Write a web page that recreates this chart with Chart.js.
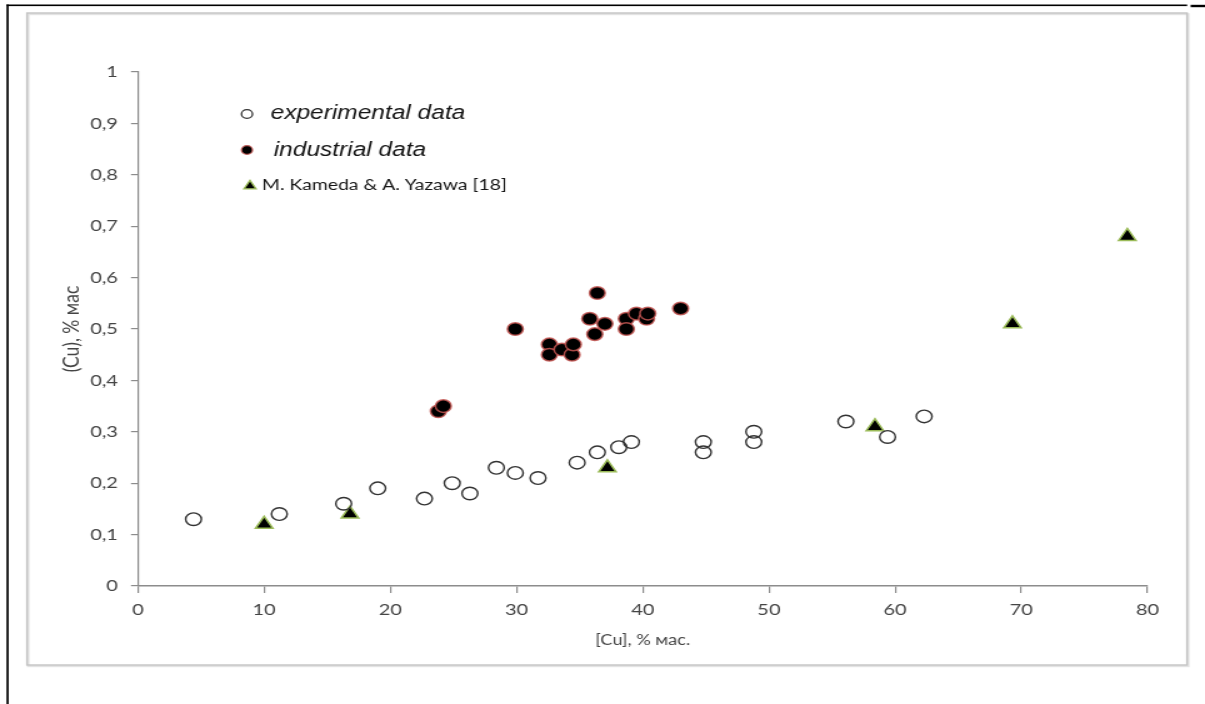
<!DOCTYPE html>
<html>
<head>
<meta charset="utf-8">
<script src="https://cdn.jsdelivr.net/npm/chart.js@4/dist/chart.umd.min.js"></script>
<style>
  html, body { margin: 0; padding: 0; background: #fff; overflow: hidden; }
  /* the figure is laid out at 964px and widened to the full 1205px page */
  #wrap { position: absolute; left: 0; top: 0; width: 964px; height: 704px;
          transform: scaleX(1.25); transform-origin: 0 0; }
</style>
</head>
<body>
<div id="wrap"><canvas id="c"></canvas></div>
<script>
// Experimental data: [Cu] in matte vs (Cu) in slag, % mass
const expX = [4.4, 11.2, 16.3, 19.0, 22.7, 24.9, 26.3, 28.4, 29.9, 31.7, 34.8, 36.4, 38.1, 39.1, 44.8, 44.8, 48.8, 48.8, 56.1, 59.4, 62.3];
const expY = [0.13, 0.14, 0.16, 0.19, 0.17, 0.20, 0.18, 0.23, 0.22, 0.21, 0.24, 0.26, 0.27, 0.28, 0.28, 0.26, 0.30, 0.28, 0.32, 0.29, 0.33];

// Industrial data
const indX = [23.8, 24.2, 29.9, 32.6, 32.6, 33.6, 34.4, 34.5, 35.8, 36.2, 36.4, 37.0, 38.7, 38.7, 39.5, 40.3, 40.4, 43.0];
const indY = [0.34, 0.35, 0.50, 0.47, 0.45, 0.46, 0.45, 0.47, 0.52, 0.49, 0.57, 0.51, 0.52, 0.50, 0.53, 0.52, 0.53, 0.54];

// M. Kameda & A. Yazawa [18]
const kyX = [10.0, 16.8, 37.2, 58.4, 69.3, 78.4];
const kyY = [0.12, 0.14, 0.23, 0.31, 0.51, 0.68];

// Axis ranges and ticks
const xTicks = [0, 10, 20, 30, 40, 50, 60, 70, 80];
const yTicks = [0, 0.1, 0.2, 0.3, 0.4, 0.5, 0.6, 0.7, 0.8, 0.9, 1];
const xTitle = '[Cu], % мас.';
const yTitle = '(Cu), % мас';
const legendLabels = ['experimental data', 'industrial data', 'M. Kameda & A. Yazawa [18]'];

const pts = (xs, ys) => xs.map((x, i) => ({ x: x, y: ys[i] }));
const fmt = v => String(Number(v.toFixed(1))).replace('.', ',');

const AXIS = '#8c8c8c';
const TICK = '#454545';

// Page frame and the grey chart border
const framePlugin = {
  id: 'frame',
  beforeDraw(chart) {
    const ctx = chart.ctx;
    ctx.save();
    ctx.fillStyle = '#fff';
    ctx.fillRect(0, 0, chart.width, chart.height);
    // grey outer border of the chart with a soft shadow
    ctx.strokeStyle = '#e3e3e3';
    ctx.lineWidth = 2;
    ctx.strokeRect(22.6, 14.2, 928, 652);
    ctx.strokeStyle = '#c4c4c4';
    ctx.lineWidth = 1.4;
    ctx.strokeRect(21.6, 13, 928, 652);
    // black page rules
    ctx.fillStyle = '#000';
    ctx.fillRect(5.2, 4.5, 944.5, 1.6);
    ctx.fillRect(952.5, 4.8, 12, 2.4);
    ctx.fillRect(5.2, 4.5, 1.7, 700);
    ctx.restore();
  }
};

// Legend drawn inside the plot area
const legendPlugin = {
  id: 'innerLegend',
  afterDraw(chart) {
    const ctx = chart.ctx;
    const dsets = chart.data.datasets;
    const rows = [
      { sx: 197.6, sy: 114, tx: 216.5, ty: 114, font: 'italic 19.6px "Liberation Sans", Arial, sans-serif', r: 4.4 },
      { sx: 197.6, sy: 150, tx: 219, ty: 151, font: 'italic 19.6px "Liberation Sans", Arial, sans-serif', r: 4.4 },
      { sx: 200, sy: 186, tx: 209.5, ty: 185, font: '15.5px Lato, "Open Sans", sans-serif', r: 5.6 }
    ];
    ctx.save();
    rows.forEach((row, i) => {
      const ds = dsets[i];
      ctx.fillStyle = ds.backgroundColor;
      ctx.strokeStyle = ds.borderColor;
      ctx.lineWidth = 1.3;
      Chart.helpers.drawPoint(ctx, {
        pointStyle: ds.pointStyle, radius: row.r, borderWidth: 1.3, rotation: 0
      }, row.sx, row.sy);
      ctx.fillStyle = '#151515';
      ctx.font = row.font;
      ctx.textBaseline = 'middle';
      ctx.textAlign = 'left';
      ctx.fillText(legendLabels[i], row.tx, row.ty);
    });
    ctx.restore();
  }
};

new Chart(document.getElementById('c'), {
  type: 'scatter',
  data: {
    datasets: [
      {
        label: legendLabels[0],
        data: pts(expX, expY),
        pointStyle: 'circle',
        pointRadius: 6.3,
        borderWidth: 1.4,
        borderColor: '#333',
        backgroundColor: 'rgba(0,0,0,0)'
      },
      {
        label: legendLabels[1],
        data: pts(indX, indY),
        pointStyle: 'circle',
        pointRadius: 6.3,
        borderWidth: 1.5,
        borderColor: 'rgba(196,86,82,0.85)',
        backgroundColor: '#000'
      },
      {
        label: legendLabels[2],
        data: pts(kyX, kyY),
        pointStyle: 'triangle',
        pointRadius: 8,
        borderWidth: 1.5,
        borderColor: '#9bbb59',
        backgroundColor: '#000'
      }
    ]
  },
  options: {
    responsive: true,
    maintainAspectRatio: false,
    animation: false,
    events: [],
    layout: { padding: { left: 0, top: 72, right: 46, bottom: 0 } },
    plugins: { legend: { display: false }, tooltip: { enabled: false } },
    scales: {
      x: {
        type: 'linear',
        min: xTicks[0],
        max: xTicks[xTicks.length - 1],
        afterFit(scale) { scale.height = 118; },
        afterBuildTicks(scale) { scale.ticks = xTicks.map(v => ({ value: v })); },
        ticks: {
          color: TICK,
          font: { family: 'Lato, "Open Sans", sans-serif', size: 16 },
          padding: 7,
          maxRotation: 0,
          callback: v => fmt(v)
        },
        grid: { drawOnChartArea: false, drawTicks: true, tickLength: 7, color: AXIS, lineWidth: 1.2 },
        border: { color: AXIS, width: 1.4 },
        title: {
          display: true,
          text: xTitle,
          color: TICK,
          font: { family: 'Lato, "Open Sans", sans-serif', size: 14.5 },
          padding: { top: 0, bottom: 55 }
        }
      },
      y: {
        type: 'linear',
        min: yTicks[0],
        max: yTicks[yTicks.length - 1],
        afterFit(scale) { scale.width = 110.4; },
        afterBuildTicks(scale) { scale.ticks = yTicks.map(v => ({ value: v })); },
        ticks: {
          color: TICK,
          font: { family: 'Lato, "Open Sans", sans-serif', size: 16 },
          padding: 10.4,
          callback: v => fmt(v)
        },
        grid: { drawOnChartArea: false, drawTicks: true, tickLength: 5.6, color: AXIS, lineWidth: 1.2 },
        border: { color: AXIS, width: 1.2 },
        title: {
          display: true,
          text: yTitle,
          color: TICK,
          font: { family: 'Lato, "Open Sans", sans-serif', size: 17.5 },
          padding: { top: 47, bottom: 0 }
        }
      }
    }
  },
  plugins: [framePlugin, legendPlugin]
});
</script>
</body>
</html>
